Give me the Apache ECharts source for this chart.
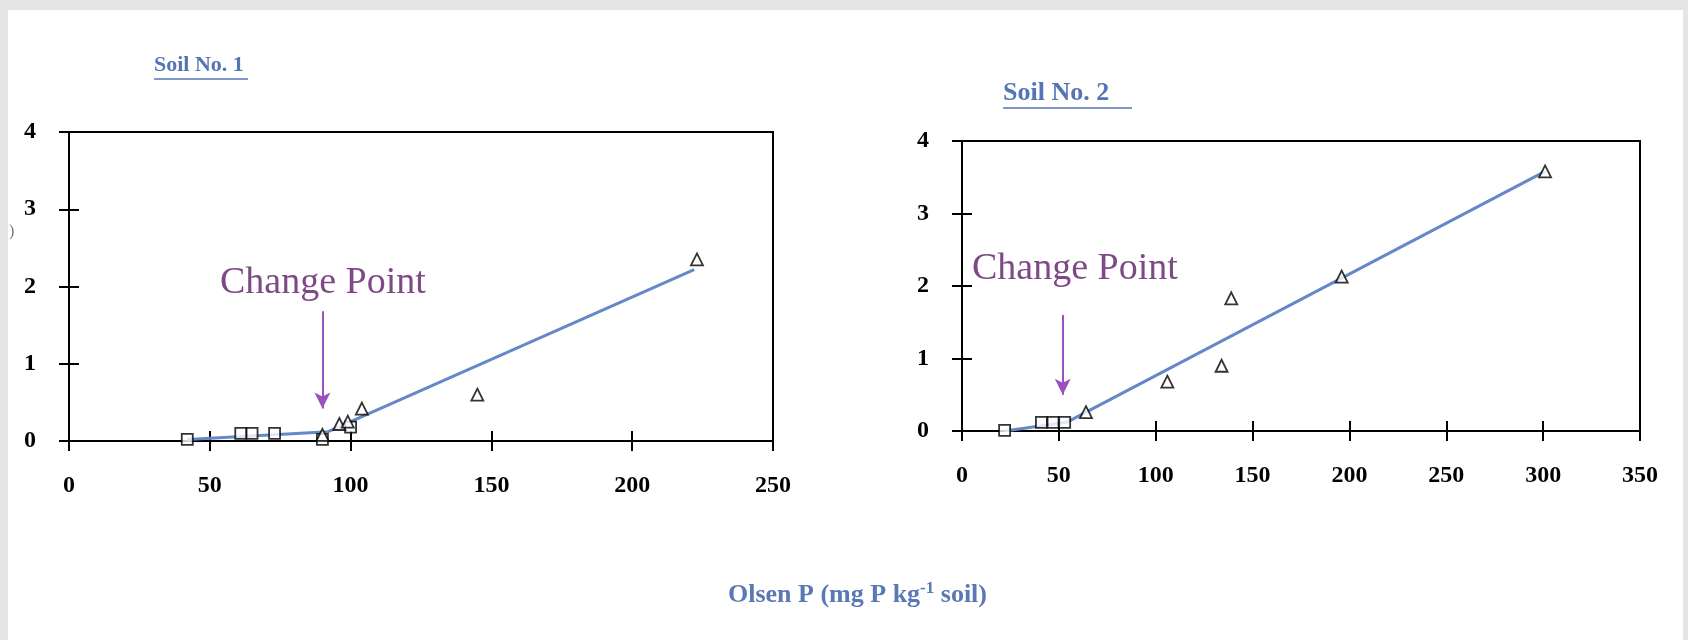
<!DOCTYPE html>
<html>
<head>
<meta charset="utf-8">
<script src="https://cdn.jsdelivr.net/npm/echarts@6/dist/echarts.min.js"></script>
<style>
html,body{margin:0;padding:0;background:#e5e5e5;}
#c{width:1688px;height:640px;}
</style>
</head>
<body>
<div id="c"></div>
<script>
// ---- data ----
const soil1Title = "Soil No. 1";
const soil2Title = "Soil No. 2";
const xTicks1 = [0, 50, 100, 150, 200, 250];
const xTicks2 = [0, 50, 100, 150, 200, 250, 300, 350];
const yTicks = [0, 1, 2, 3, 4];
const soil1Squares = [[42,0.02],[61,0.1],[65,0.1],[73,0.1],[90,0.02],[100,0.18]];
const soil1Triangles = [[90,0.08],[96,0.22],[99,0.25],[104,0.42],[145,0.6],[223,2.35]];
const soil1Fit = [[42,0.02],[92,0.12],[222,2.22]];
const soil1Change = 90;
const soil2Squares = [[22,0.01],[41,0.12],[47,0.12],[53,0.12]];
const soil2Triangles = [[64,0.26],[106,0.68],[134,0.9],[139,1.83],[196,2.13],[301,3.58]];
const soil2Fit = [[22,0.0],[54,0.12],[301,3.58]];
const soil2Change = 52;
const xAxisName = ["Olsen P (mg P kg", "-1", " soil)"];
const changeLabel = "Change Point";

const FONT = "'Liberation Serif','Times New Roman',serif";
const axisCol = '#000';
const lineCol = '#6688c8';
const arrowCol = '#9b4fc0';

function xAxes(grid, max, labels) {
  const base = {
    type: 'value', gridIndex: grid, min: 0, max: max, interval: 50, position: 'bottom',
    splitLine: {show: false},
    axisLine: {show: true, onZero: false, lineStyle: {color: axisCol, width: 2}},
  };
  return [
    Object.assign({}, base, {
      axisTick: {show: true, inside: false, length: 10, lineStyle: {color: axisCol, width: 2}},
      axisLabel: {show: true, margin: 33, color: '#000', fontFamily: FONT, fontWeight: 'bold', fontSize: 24,
        formatter: v => labels.includes(v) ? String(v) : ''}
    }),
    Object.assign({}, base, {
      axisTick: {show: true, inside: true, length: 10, lineStyle: {color: axisCol, width: 2}},
      axisLabel: {show: false}
    })
  ];
}
function yAxes(grid) {
  const base = {
    type: 'value', gridIndex: grid, min: 0, max: 4, interval: 1, position: 'left',
    splitLine: {show: false},
    axisLine: {show: true, onZero: false, lineStyle: {color: axisCol, width: 2}},
  };
  return [
    Object.assign({}, base, {
      axisTick: {show: true, inside: false, length: 10, lineStyle: {color: axisCol, width: 2}},
      axisLabel: {show: true, margin: 33, color: '#000', fontFamily: FONT, fontWeight: 'bold', fontSize: 24,
        formatter: v => yTicks.includes(v) ? String(v) : ''}
    }),
    Object.assign({}, base, {
      axisTick: {show: true, inside: true, length: 10, lineStyle: {color: axisCol, width: 2}},
      axisLabel: {show: false}
    })
  ];
}

const sq = {symbol: 'rect', symbolSize: 11, itemStyle: {color: '#fff', borderColor: '#000', borderWidth: 1.8}};
const tri = {symbol: 'triangle', symbolSize: 12, itemStyle: {color: '#fff', borderColor: '#000', borderWidth: 1.8}};

function arrowLine(x, y0, y1) {
  return {
    silent: true, symbol: ['none', 'arrow'], symbolSize: [12, 16],
    lineStyle: {color: arrowCol, width: 2, type: 'solid'},
    label: {show: false},
    data: [[{coord: [x, y0]}, {coord: [x, y1]}]]
  };
}

const chart = echarts.init(document.getElementById('c'));
const option = {
  backgroundColor: '#e5e5e5',
  animation: false,
  grid: [
    {left: 69, top: 132, width: 704, height: 309, show: true, borderColor: '#000', borderWidth: 2, backgroundColor: 'transparent'},
    {left: 962, top: 141, width: 678, height: 290, show: true, borderColor: '#000', borderWidth: 2, backgroundColor: 'transparent'}
  ],
  xAxis: [].concat(xAxes(0, 250, xTicks1), xAxes(1, 350, xTicks2)),
  yAxis: [].concat(yAxes(0), yAxes(1)),
  graphic: [
    {type: 'rect', z: -10, silent: true, shape: {x: 8, y: 10, width: 1675, height: 630}, style: {fill: '#fff'}},
    {type: 'text', left: 9, top: 224, style: {text: ')', font: `16px ${FONT}`, fill: '#777'}},
    {type: 'text', left: 154, top: 54, style: {text: soil1Title, font: `bold 22px ${FONT}`, fill: '#5474b6'}},
    {type: 'line', shape: {x1: 154, y1: 79, x2: 248, y2: 79}, style: {stroke: '#5474b6', lineWidth: 1.5}},
    {type: 'text', left: 1003, top: 80, style: {text: soil2Title, font: `bold 26px ${FONT}`, fill: '#5474b6'}},
    {type: 'line', shape: {x1: 1003, y1: 108, x2: 1132, y2: 108}, style: {stroke: '#5474b6', lineWidth: 1.5}},
    {type: 'text', left: 220, top: 264, style: {text: changeLabel, font: `38px ${FONT}`, fill: '#7e4a86'}},
    {type: 'text', left: 972, top: 250, style: {text: changeLabel, font: `38px ${FONT}`, fill: '#7e4a86'}},
    {type: 'text', left: 728, top: 580, style: {
      rich: {
        a: {font: `bold 26px ${FONT}`, fill: '#5a78b4', color: '#5a78b4'},
        s: {font: `bold 17px ${FONT}`, fill: '#5a78b4', color: '#5a78b4', verticalAlign: 'top', padding: [0, 0, 14, 0]}
      },
      text: `{a|${xAxisName[0]}}{s|${xAxisName[1]}}{a|${xAxisName[2]}}`
    }}
  ],
  series: [
    {type: 'line', xAxisIndex: 0, yAxisIndex: 0, data: soil1Fit, showSymbol: false, symbol: 'none', z: 2,
      lineStyle: {color: lineCol, width: 3}, markLine: arrowLine(soil1Change, 1.68, 0.42)},
    Object.assign({type: 'scatter', xAxisIndex: 0, yAxisIndex: 0, data: soil1Squares, z: 3}, sq),
    Object.assign({type: 'scatter', xAxisIndex: 0, yAxisIndex: 0, data: soil1Triangles, z: 3}, tri),
    {type: 'line', xAxisIndex: 2, yAxisIndex: 2, data: soil2Fit, showSymbol: false, symbol: 'none', z: 2,
      lineStyle: {color: lineCol, width: 3}, markLine: arrowLine(soil2Change, 1.6, 0.5)},
    Object.assign({type: 'scatter', xAxisIndex: 2, yAxisIndex: 2, data: soil2Squares, z: 3}, sq),
    Object.assign({type: 'scatter', xAxisIndex: 2, yAxisIndex: 2, data: soil2Triangles, z: 3}, tri)
  ]
};
chart.setOption(option);
</script>
</body>
</html>
